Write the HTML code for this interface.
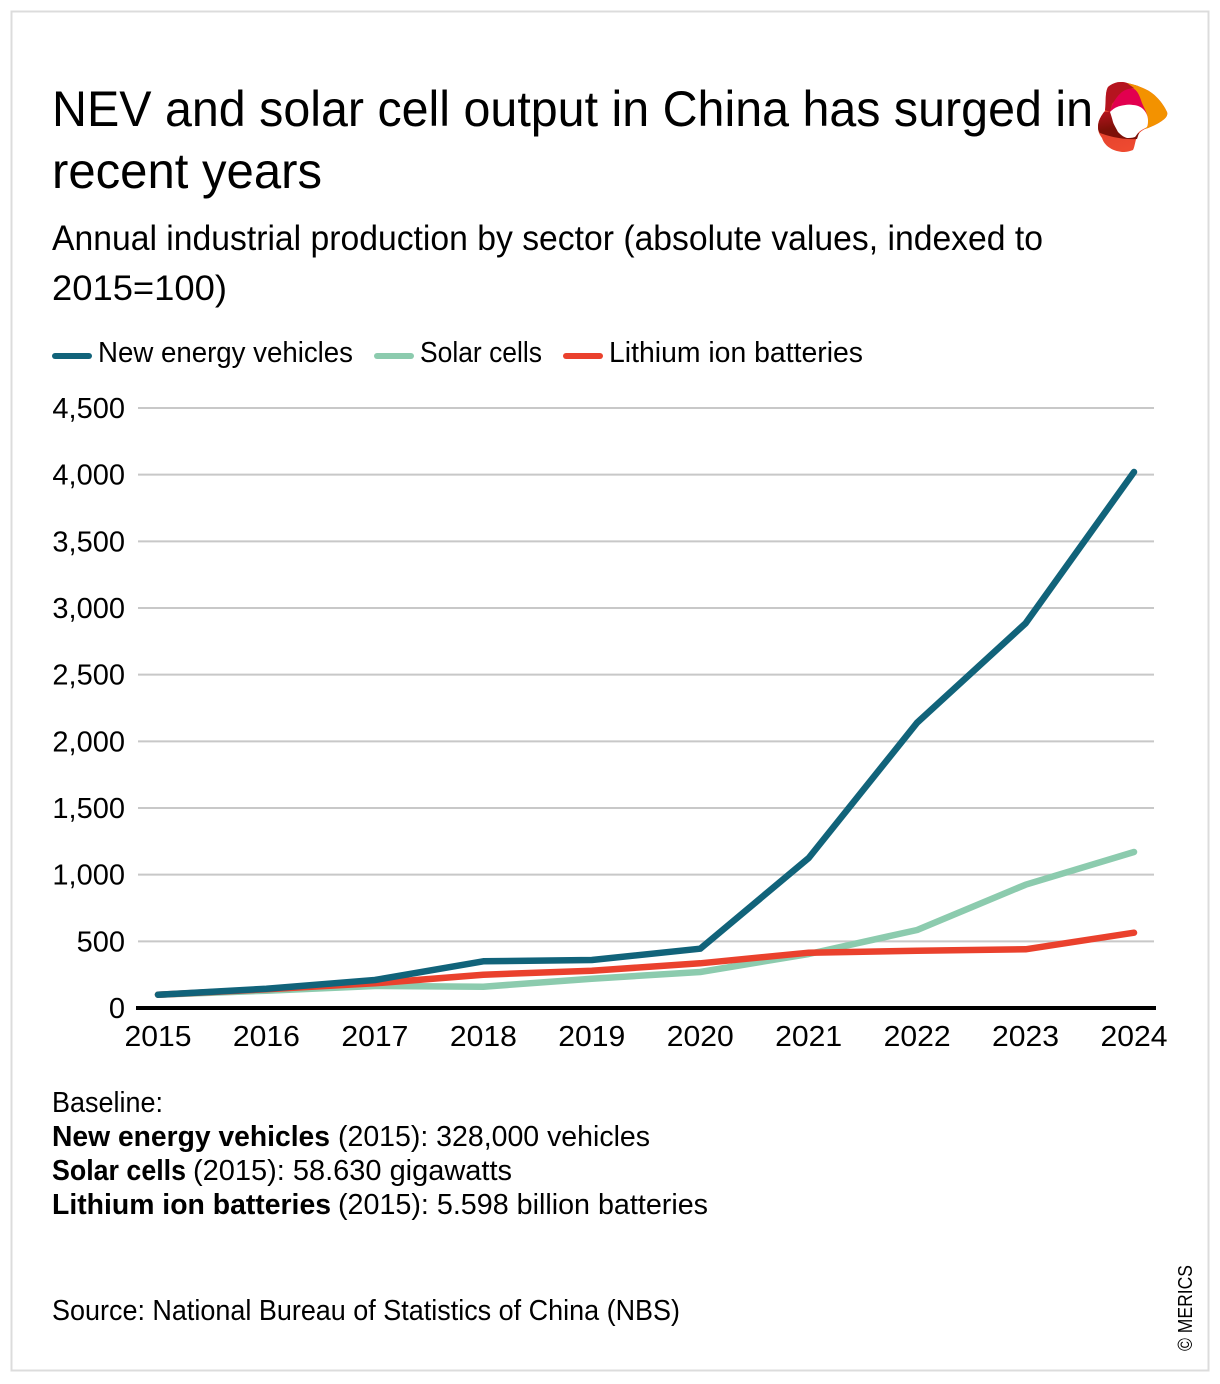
<!DOCTYPE html>
<html lang="en">
<head>
<meta charset="utf-8">
<title>NEV and solar cell output in China</title>
<style>
html,body{margin:0;padding:0;background:#fff;}
body{width:1220px;height:1384px;overflow:hidden;}
svg{display:block;}
text{font-family:"Liberation Sans",sans-serif;fill:#000;}
</style>
</head>
<body>
<svg id="chart" xmlns="http://www.w3.org/2000/svg" width="1220" height="1384" viewBox="0 0 1220 1384">
  <defs>
    <linearGradient id="logoLower" x1="0" y1="0" x2="0.25" y2="1">
      <stop offset="0" stop-color="#b5141f"/>
      <stop offset="0.65" stop-color="#7d1008"/>
      <stop offset="1" stop-color="#7d1008"/>
    </linearGradient>
    <linearGradient id="logoBottom" x1="0" y1="0" x2="0.3" y2="1">
      <stop offset="0" stop-color="#d2352a"/>
      <stop offset="1" stop-color="#ee4a30"/>
    </linearGradient>
  </defs>

  <rect x="11.5" y="11.5" width="1197" height="1359" fill="#fff" stroke="#dcdcdc" stroke-width="2"/>

  <text x="52" y="126" font-size="50" textLength="1041" lengthAdjust="spacingAndGlyphs">NEV and solar cell output in China has surged in</text>
  <text x="52" y="188" font-size="50" textLength="270" lengthAdjust="spacingAndGlyphs">recent years</text>

  <g>
    <path d="M1108 87C1114 82 1121 81 1127 83C1136 85 1141 87 1147 90C1155 94 1163 103 1167 112C1168 115 1166 118 1163 120C1158 124 1151 127 1145 129C1141 131 1139 133 1137 137C1135 141 1135 146 1133 150C1128 152 1125 152 1122 152C1116 151 1113 150 1110 148C1105 145 1103 141 1102 138C1099 134 1098 131 1098 127C1098 122 1100 118 1102 115C1104 112 1106 110 1106 107C1106 102 1105 92 1108 87Z" fill="url(#logoBottom)"/>
    <path d="M1102 115C1100 118 1098 122 1098 127C1098 130 1099 132 1100 133C1108 136 1122 140 1137 139L1139 133L1127 131L1118 125L1112 112L1104 112Z" fill="url(#logoLower)"/>
    <path d="M1108 87C1114 82 1121 81 1127 83L1138 86L1122 92L1112 104L1110 112L1105 110C1106 102 1105 92 1108 87Z" fill="#b5141f"/>
    <path d="M1127 83C1136 85 1141 87 1147 90C1155 94 1163 103 1167 112C1168 115 1166 118 1163 120C1158 124 1151 127 1145 129L1142 120L1134 88Z" fill="#f39200"/>
    <path d="M1110 112C1112 103 1117 96 1122 92C1126 89 1130 88 1134 89C1138 91 1140 97 1142 103C1145 110 1148 115 1148 120C1148 123 1148 125 1147 127L1140 125L1120 108Z" fill="#e2004f"/>
    <path d="M1110 112C1113 109 1116 107 1120 106C1124 105 1129 104 1133 105C1137 105 1141 107 1143 109C1146 112 1148 116 1148 120C1148 123 1148 125 1147 127C1144 129 1141 130 1139 132C1137 134 1136 136 1135 137C1132 138 1129 138 1127 138C1123 137 1120 134 1118 132C1116 128 1114 125 1113 122C1112 118 1111 115 1110 112Z" fill="#fff"/>
  </g>

  <text x="52" y="250" font-size="35" textLength="991" lengthAdjust="spacingAndGlyphs">Annual industrial production by sector (absolute values, indexed to</text>
  <text x="52" y="300" font-size="35" textLength="175" lengthAdjust="spacingAndGlyphs">2015=100)</text>

  <g>
    <g>
      <line x1="55" y1="356" x2="89" y2="356" stroke="#11637a" stroke-width="6" stroke-linecap="round"/>
      <text x="98" y="362" font-size="29" textLength="255" lengthAdjust="spacingAndGlyphs">New energy vehicles</text>
    </g>
    <g>
      <line x1="377" y1="356" x2="411" y2="356" stroke="#8ccbae" stroke-width="6" stroke-linecap="round"/>
      <text x="420" y="362" font-size="29" textLength="122" lengthAdjust="spacingAndGlyphs">Solar cells</text>
    </g>
    <g>
      <line x1="566" y1="356" x2="600" y2="356" stroke="#ea412d" stroke-width="6" stroke-linecap="round"/>
      <text x="609" y="362" font-size="29" textLength="254" lengthAdjust="spacingAndGlyphs">Lithium ion batteries</text>
    </g>
  </g>

  <g id="plot"></g>

  <g>
    <text x="52" y="1112" font-size="29" textLength="111" lengthAdjust="spacingAndGlyphs">Baseline:</text>
    <text x="52" y="1146" font-size="29" font-weight="bold" textLength="278" lengthAdjust="spacingAndGlyphs">New energy vehicles</text>
    <text x="338" y="1146" font-size="29" textLength="312" lengthAdjust="spacingAndGlyphs">(2015): 328,000 vehicles</text>
    <text x="52" y="1180" font-size="29" font-weight="bold" textLength="134" lengthAdjust="spacingAndGlyphs">Solar cells</text>
    <text x="193" y="1180" font-size="29" textLength="319" lengthAdjust="spacingAndGlyphs">(2015): 58.630 gigawatts</text>
    <text x="52" y="1214" font-size="29" font-weight="bold" textLength="279" lengthAdjust="spacingAndGlyphs">Lithium ion batteries</text>
    <text x="338" y="1214" font-size="29" textLength="370" lengthAdjust="spacingAndGlyphs">(2015): 5.598 billion batteries</text>
  </g>
  <text x="52" y="1320" font-size="29" textLength="628" lengthAdjust="spacingAndGlyphs">Source: National Bureau of Statistics of China (NBS)</text>
  <text transform="translate(1192,1351) rotate(-90)" font-size="20" textLength="86" lengthAdjust="spacingAndGlyphs">© MERICS</text>
</svg>
<script>
const categories = ['2015','2016','2017','2018','2019','2020','2021','2022','2023','2024'];
const yTicks = [0,500,1000,1500,2000,2500,3000,3500,4000,4500];
const yTickLabels = ['0','500','1,000','1,500','2,000','2,500','3,000','3,500','4,000','4,500'];
const solarCells = [100,130,165,160,220,270,405,585,925,1170];
const lithiumBatteries = [100,140,185,250,280,335,415,430,440,565];
const newEnergyVehicles = [100,145,210,350,360,445,1125,2140,2885,4020];

const NS = 'http://www.w3.org/2000/svg';
const plot = document.getElementById('plot');
const yMax = 4500;
function xScale(i){ return 158 + i * (1134 - 158) / (categories.length - 1); }
function yScale(v){ return 1008 - v * (1008 - 408) / yMax; }
function make(tag, attrs){
  const el = document.createElementNS(NS, tag);
  for (const k in attrs) el.setAttribute(k, attrs[k]);
  return el;
}

yTicks.forEach(function(t, i){
  if (t !== 0) {
    const grid = make('line', {x1:138, x2:1154, y1:yScale(t), y2:yScale(t), stroke:'#c8c8c8', 'stroke-width':2});
    
    
    plot.appendChild(grid);
  }
  const lab = make('text', {x:125, y:yScale(t) + 10, 'font-size':29, 'text-anchor':'end'});
  
  
  lab.textContent = yTickLabels[i];
  plot.appendChild(lab);
});

categories.forEach(function(c, i){
  const lab = make('text', {x:xScale(i), y:1046, 'font-size':29, 'text-anchor':'middle', textLength:67, lengthAdjust:'spacingAndGlyphs'});
  
  
  lab.textContent = c;
  plot.appendChild(lab);
});

function drawSeries(values, color, name){
  const d = values.map(function(v, i){ return (i ? 'L' : 'M') + xScale(i).toFixed(1) + ' ' + yScale(v).toFixed(1); }).join('');
  const p = make('path', {d:d, fill:'none', stroke:color, 'stroke-width':6.5, 'stroke-linecap':'round', 'stroke-linejoin':'round'});
  
  
  plot.appendChild(p);
}
drawSeries(solarCells, '#8ccbae', 'series-solar-cells');
drawSeries(lithiumBatteries, '#ea412d', 'series-lithium-ion-batteries');
drawSeries(newEnergyVehicles, '#11637a', 'series-new-energy-vehicles');

const axis = make('line', {x1:136, x2:1156, y1:1008, y2:1008, stroke:'#000', 'stroke-width':4});


plot.appendChild(axis);
</script>
</body>
</html>
